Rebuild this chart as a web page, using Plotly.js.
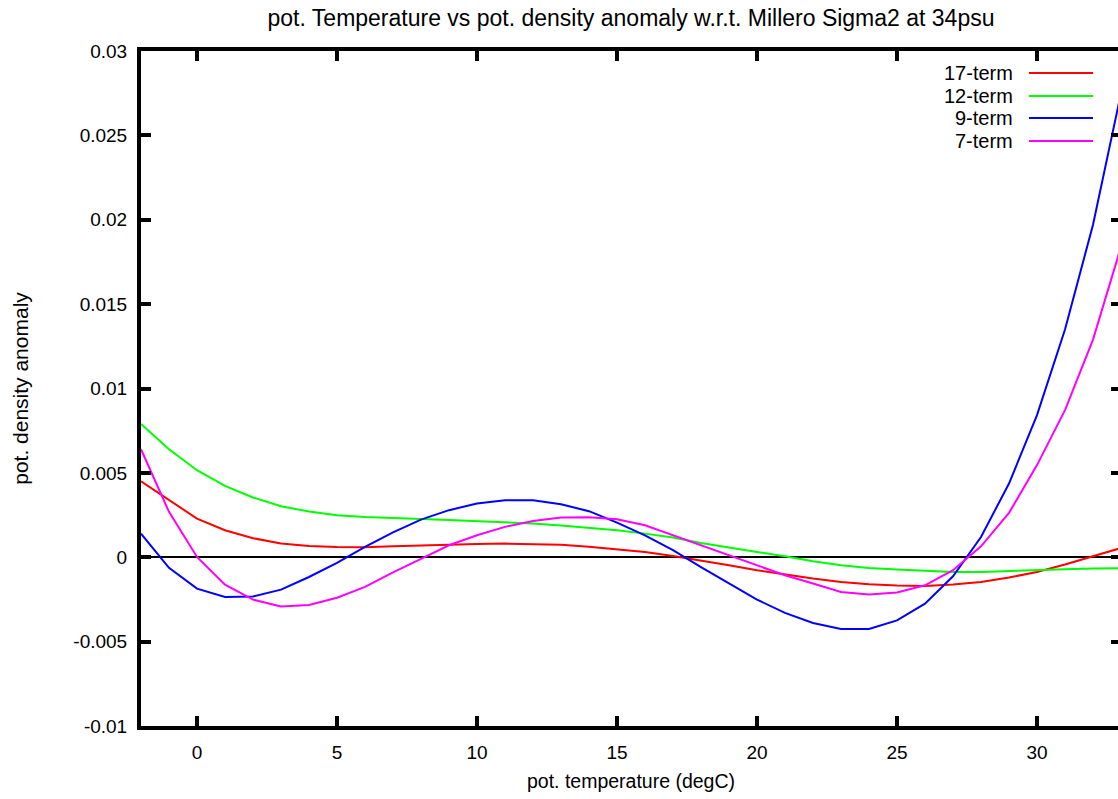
<!DOCTYPE html>
<html>
<head>
<meta charset="utf-8">
<script src="https://cdn.plot.ly/plotly-3.0.1.min.js"></script>
<style>
  html, body { margin: 0; padding: 0; overflow: hidden; background: #fff; }
  #chart { width: 1125px; height: 799px; }
</style>
</head>
<body>
<div id="chart"></div>
<script>
// ---- data ----
const temps = [-2, -1, 0, 1, 2, 3, 4, 5, 6, 7, 8, 9, 10, 11, 12, 13, 14, 15, 16, 17,
               18, 19, 20, 21, 22, 23, 24, 25, 26, 27, 28, 29, 30, 31, 32, 33];

const term17 = [0.0045, 0.00338, 0.00229, 0.0016, 0.00113, 0.00081, 0.00067, 0.00061, 0.00059, 0.00065,
                0.00071, 0.00075, 0.00079, 0.00081, 0.00079, 0.00074, 0.00062, 0.00047, 0.00031, 0.00008,
                -0.00018, -0.00047, -0.00077, -0.00103, -0.00126, -0.00146, -0.0016, -0.00168, -0.0017, -0.00162,
                -0.00146, -0.0012, -0.00087, -0.00043, 0.00006, 0.00055];

const term12 = [0.0079, 0.0064, 0.00516, 0.00423, 0.00354, 0.00302, 0.00271, 0.00249, 0.00239, 0.00231,
                0.00227, 0.00221, 0.00215, 0.00209, 0.002, 0.00188, 0.00175, 0.0016, 0.0014, 0.00117,
                0.00085, 0.00057, 0.00031, 0.00006, -0.00024, -0.00047, -0.00063, -0.00073, -0.00081, -0.00087,
                -0.00087, -0.00083, -0.00077, -0.00071, -0.00066, -0.00065];

const term9 = [0.0014, -0.00063, -0.00186, -0.00235, -0.00233, -0.00192, -0.00117, -0.00034, 0.00061, 0.00148,
               0.00223, 0.00279, 0.00318, 0.00338, 0.00338, 0.00314, 0.00273, 0.00205, 0.0013, 0.00042,
               -0.00058, -0.00156, -0.00251, -0.0033, -0.0039, -0.00425, -0.00425, -0.00374, -0.00275, -0.00113,
               0.0012, 0.00437, 0.00842, 0.0135, 0.0197, 0.0275];

const term7 = [0.0064, 0.00269, 0.00002, -0.00162, -0.00251, -0.00292, -0.00283, -0.0024, -0.00176, -0.0009,
               -0.0001, 0.00071, 0.0013, 0.0018, 0.00215, 0.00235, 0.00237, 0.00225, 0.0019, 0.0013,
               0.00071, 0.00012, -0.00047, -0.00107, -0.00156, -0.00206, -0.00221, -0.00209, -0.00166, -0.00077,
               0.00065, 0.00263, 0.00546, 0.00872, 0.0129, 0.0184];

const seriesNames  = ['17-term', '12-term', '9-term', '7-term'];
const seriesValues = [term17, term12, term9, term7];
const seriesColors = ['#ff0000', '#00ff00', '#0000ff', '#ff00ff'];

const xTickVals = [0, 5, 10, 15, 20, 25, 30];
const xTickText = ['0', '5', '10', '15', '20', '25', '30'];
const yTickVals = [-0.01, -0.005, 0, 0.005, 0.01, 0.015, 0.02, 0.025, 0.03];
const yTickText = ['-0.01', '-0.005', '0', '0.005', '0.01', '0.015', '0.02', '0.025', '0.03'];

// ---- layout geometry (pixels) ----
const W = 1125, H = 799;
const L = 141, R = 4, T = 51, B = 73;
const plotW = W - L - R, plotH = H - T - B;
const px2x = p => (p - L) / plotW;
const py2y = p => (H - B - p) / plotH;

const FONT = '"Liberation Sans", Arial, Helvetica, sans-serif';

const traces = seriesNames.map((name, i) => ({
  type: 'scatter',
  mode: 'lines',
  x: temps,
  y: seriesValues[i],
  name: name,
  line: { color: seriesColors[i], width: 2 },
  showlegend: false,
  hoverinfo: 'x+y+name'
}));

// gnuplot-style key: text on left, line sample on right
const legendRowsPx = [73, 96, 118, 141];
const annotations = [];
const shapes = [];
seriesNames.forEach((name, i) => {
  const yp = py2y(legendRowsPx[i]);
  annotations.push({
    xref: 'paper', yref: 'paper', x: px2x(1014), y: yp,
    xanchor: 'right', yanchor: 'middle', showarrow: false, borderpad: 0,
    text: name, font: { family: FONT, size: 20, color: '#000' }
  });
  shapes.push({
    type: 'line', xref: 'paper', yref: 'paper',
    x0: px2x(1029), x1: px2x(1093), y0: yp, y1: yp,
    line: { color: seriesColors[i], width: 2 }
  });
});

const layout = {
  width: W, height: H,
  margin: { l: L, r: R, t: T, b: B, pad: 0 },
  paper_bgcolor: '#fff', plot_bgcolor: '#fff',
  font: { family: FONT, size: 19, color: '#000' },
  title: {
    text: 'pot. Temperature vs pot. density anomaly w.r.t. Millero Sigma2 at 34psu',
    font: { family: FONT, size: 23, color: '#000' },
    xref: 'paper', x: 0.5, xanchor: 'center',
    yref: 'container', y: 1 - 18 / H, yanchor: 'middle'
  },
  xaxis: {
    range: [-2, 33],
    tickmode: 'array', tickvals: xTickVals, ticktext: xTickText,
    ticks: 'inside', ticklen: 10, tickwidth: 4, tickcolor: '#000',
    showline: true, linewidth: 4, linecolor: '#000', mirror: 'allticks',
    showgrid: false, zeroline: false,
    tickfont: { family: FONT, size: 19, color: '#000' },
    ticklabelstandoff: 6,
    title: { text: 'pot. temperature (degC)', font: { family: FONT, size: 19.5, color: '#000' }, standoff: 14 }
  },
  yaxis: {
    range: [-0.01, 0.03],
    tickmode: 'array', tickvals: yTickVals, ticktext: yTickText,
    ticks: 'inside', ticklen: 10, tickwidth: 4, tickcolor: '#000',
    showline: true, linewidth: 4, linecolor: '#000', mirror: 'allticks',
    showgrid: false,
    zeroline: true, zerolinecolor: '#000', zerolinewidth: 2,
    tickfont: { family: FONT, size: 19, color: '#000' },
    ticklabelstandoff: 6,
    title: { text: 'pot. density anomaly', font: { family: FONT, size: 21, color: '#000' }, standoff: 40 }
  },
  annotations: annotations,
  shapes: shapes
};

Plotly.newPlot('chart', traces, layout, { displayModeBar: false, responsive: false, staticPlot: true });
</script>
</body>
</html>
